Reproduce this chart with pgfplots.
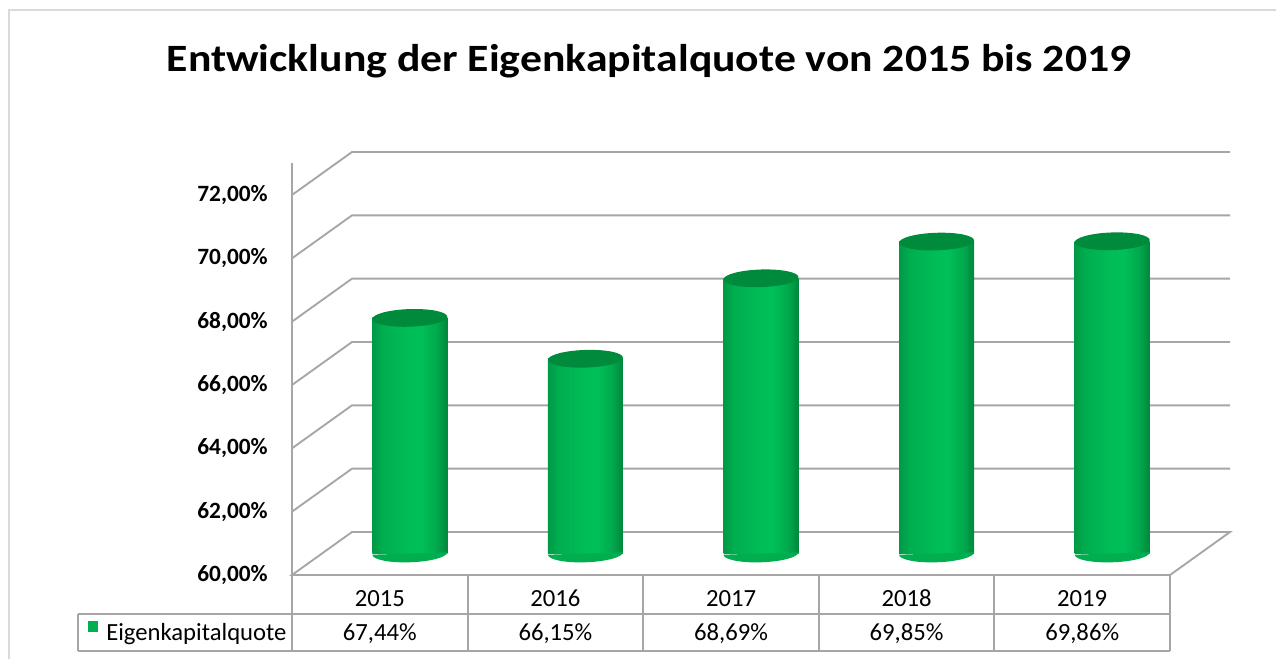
\documentclass[border=0pt]{standalone}
\usepackage{pgfplots}
\usepackage{pgfplotstable}
\pgfplotsset{compat=1.18}
\usepackage{fontspec}
\setmainfont{Carlito}
\definecolor{gTop}{HTML}{008A3C}
\definecolor{gBot}{HTML}{00AE4F}
\definecolor{gridc}{HTML}{A6A6A6}
\definecolor{framec}{HTML}{D9D9D9}
\definecolor{leg}{HTML}{00B050}
\pgfdeclarehorizontalshading{cylshade}{100bp}{
  rgb(0bp)=(0,0.60,0.27);
  rgb(25bp)=(0,0.60,0.27);
  rgb(32bp)=(0,0.68,0.31);
  rgb(50bp)=(0,0.745,0.34);
  rgb(58bp)=(0,0.75,0.345);
  rgb(68bp)=(0,0.66,0.30);
  rgb(75bp)=(0,0.53,0.235);
  rgb(100bp)=(0,0.53,0.235)}
\pgfdeclareplotmark{cyltop}{\pgfpathellipse{\pgfpointorigin}{\pgfqpoint{28.1pt}{0.9pt}}{\pgfqpoint{-0.2pt}{6.6pt}}\pgfusepathqfill}
\pgfdeclareplotmark{cylbot}{%
  \pgftransformcm{1}{0.032}{0}{1}{\pgfpointorigin}%
  \pgfpathmoveto{\pgfqpoint{-28.1pt}{0pt}}%
  \pgfpatharc{180}{360}{28.1pt and 6.6pt}%
  \pgfpathclose\pgfusepathqfill}

\pgfplotstableread{
x y
0.5 67.44
1.5 66.15
2.5 68.69
3.5 69.85
4.5 69.86
}\datatable

\pgfplotsset{cyl/.style={xshift=22.5pt, yshift=16.125pt, y filter/.expression={y-60}},
  cylbar/.style={ybar, bar width=56.25pt, draw=none, shading=cylshade, cyl}}

\begin{document}
\begin{tikzpicture}[x=1pt,y=1pt]
\useasboundingbox (0,0) rectangle (957,494.25);
\fill[white] (0,0) rectangle (957,494.25);
\draw[framec, line width=1.5pt] (6.75,0) -- (6.75,486.75) -- (957,486.75);
\node[anchor=base, inner sep=0pt, font=\fontsize{29}{34}\selectfont\bfseries] at (486.75,440.25) {\scalebox{1.13}[1]{Entwicklung der Eigenkapitalquote von 2015 bis 2019}};
\begin{axis}[
  at={(219pt,63pt)}, anchor=south west, scale only axis,
  width=658.5pt, height=308.75pt,
  xmin=0, xmax=5, ymin=0, ymax=13,
  clip=false, axis line style={draw=none}, major tick length=0pt,
  xtick={0.5,1.5,2.5,3.5,4.5},
  xticklabels={2015,2016,2017,2018,2019},
  xticklabel style={anchor=base, inner sep=0pt, yshift=-24pt, font=\fontsize{18.5}{20}\selectfont},
  ytick={0,2,4,6,8,10,12},
  yticklabels={{60,00\%},{62,00\%},{64,00\%},{66,00\%},{68,00\%},{70,00\%},{72,00\%}},
  yticklabel style={anchor=east, inner sep=0pt, xshift=-18pt, font=\fontsize{17.5}{20}\selectfont\bfseries},
]
% back wall grid lines and floor
\pgfplotsinvokeforeach{2,4,6,8,10,12}{
  \draw[gridc, line width=1.4pt] (axis cs:0,#1) -- ++(45pt,32.25pt) -- ++(658.5pt,0pt);
}
\draw[gridc, line width=1.4pt] (axis cs:0,0) -- ++(45pt,32.25pt) -- ++(658.5pt,0pt) -- (axis cs:5,0) -- cycle;
\draw[gridc, line width=1.4pt] (axis cs:0,13) -- (axis cs:0,0);
% cylinder bases at 60 %
\addplot[only marks, mark=cylbot, mark options={fill=gBot, draw=none}, cyl] coordinates {(0.5,60) (1.5,60) (2.5,60) (3.5,60) (4.5,60)};
% bars
\addplot[cylbar] coordinates {(0.5,67.44)};
\addplot[cylbar] coordinates {(1.5,66.15)};
\addplot[cylbar] coordinates {(2.5,68.69)};
\addplot[cylbar] coordinates {(3.5,69.85)};
\addplot[cylbar] coordinates {(4.5,69.86)};
% top ellipses
\addplot[only marks, mark=cyltop, mark options={fill=gTop, draw=none}, cyl] table[x=x, y=y] {\datatable};
\end{axis}
% data table
\begin{scope}[gridc, line width=1.4pt]
  \draw (58.5,33.75) -- (877.5,33.75);
  \draw (58.5,6) -- (877.5,6);
  \draw (58.5,33.75) -- (58.5,6);
  \foreach \xx in {219,350.7,482.4,614.1,745.8,877.5} { \draw (\xx,63) -- (\xx,6); }
\end{scope}
\fill[leg] (66,20.25) rectangle (73.5,28.5);
\node[anchor=base west, inner sep=0pt, font=\fontsize{18.5}{20}\selectfont] at (79.5,13.5) {Eigenkapitalquote};
\foreach \xx/\vv in {284.85/{67,44\%},416.55/{66,15\%},548.25/{68,69\%},679.95/{69,85\%},811.65/{69,86\%}} {
  \node[anchor=base, inner sep=0pt, font=\fontsize{18.5}{20}\selectfont] at (\xx,13.5) {\vv};
}
\end{tikzpicture}
\end{document}
